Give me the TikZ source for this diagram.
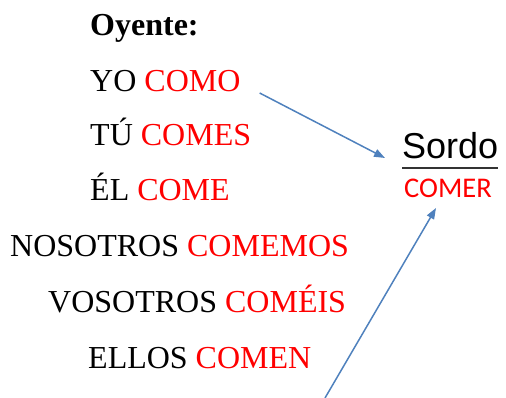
\documentclass[tikz,border=0pt]{standalone}
\usepackage{fontspec}
\setmainfont{Liberation Serif}
\newfontfamily\sordofont{Liberation Sans}
\newfontfamily\comerfont{Carlito}
\usetikzlibrary{arrows.meta,calc}

\definecolor{arrowblue}{RGB}{79,129,189}

\begin{document}
\begin{tikzpicture}[x=1pt,y=-1pt, >={Triangle[length=11pt,width=8pt]},
  every node/.style={inner sep=0pt,anchor=base west,font=\fontsize{32}{38}\selectfont},
  link/.style={->,arrowblue,line width=1.5pt}]
\useasboundingbox (0,0) rectangle (506,398);
\node[font=\fontsize{32}{38}\selectfont\bfseries] (oyente) at (90,36) {Oyente:};
\node (yo) at (90,92) {YO \textcolor{red}{COMO}};
\node (tu) at (90,146) {TÚ \textcolor{red}{COMES}};
\node (el) at (90,201) {ÉL \textcolor{red}{COME}};
\node (nosotros) at (10,256) {NOSOTROS \textcolor{red}{COMEMOS}};
\node (vosotros) at (48,312) {VOSOTROS \textcolor{red}{COMÉIS}};
\node (ellos) at (88,368) {ELLOS \textcolor{red}{COMEN}};
% sordo side
\node[font=\fontsize{36}{40}\sordofont] (sordo) at (402,159) {Sordo};
\draw[line width=2.8pt,black!80] ($(sordo.base west)+(0,9)$) -- ($(sordo.base east)+(0,9)$);
\node[font=\fontsize{28.5}{30}\comerfont,text=red] (comer) at (404,198) {COMER};
% arrows
\coordinate (free) at (325,398);
\draw[link] ($(yo.base east)+(19,1)$) -- ($(sordo.base west)+(-17,-1)$);
\draw[link] (free) -- ($(comer.base west)+(32,10)$);
\end{tikzpicture}
\end{document}
